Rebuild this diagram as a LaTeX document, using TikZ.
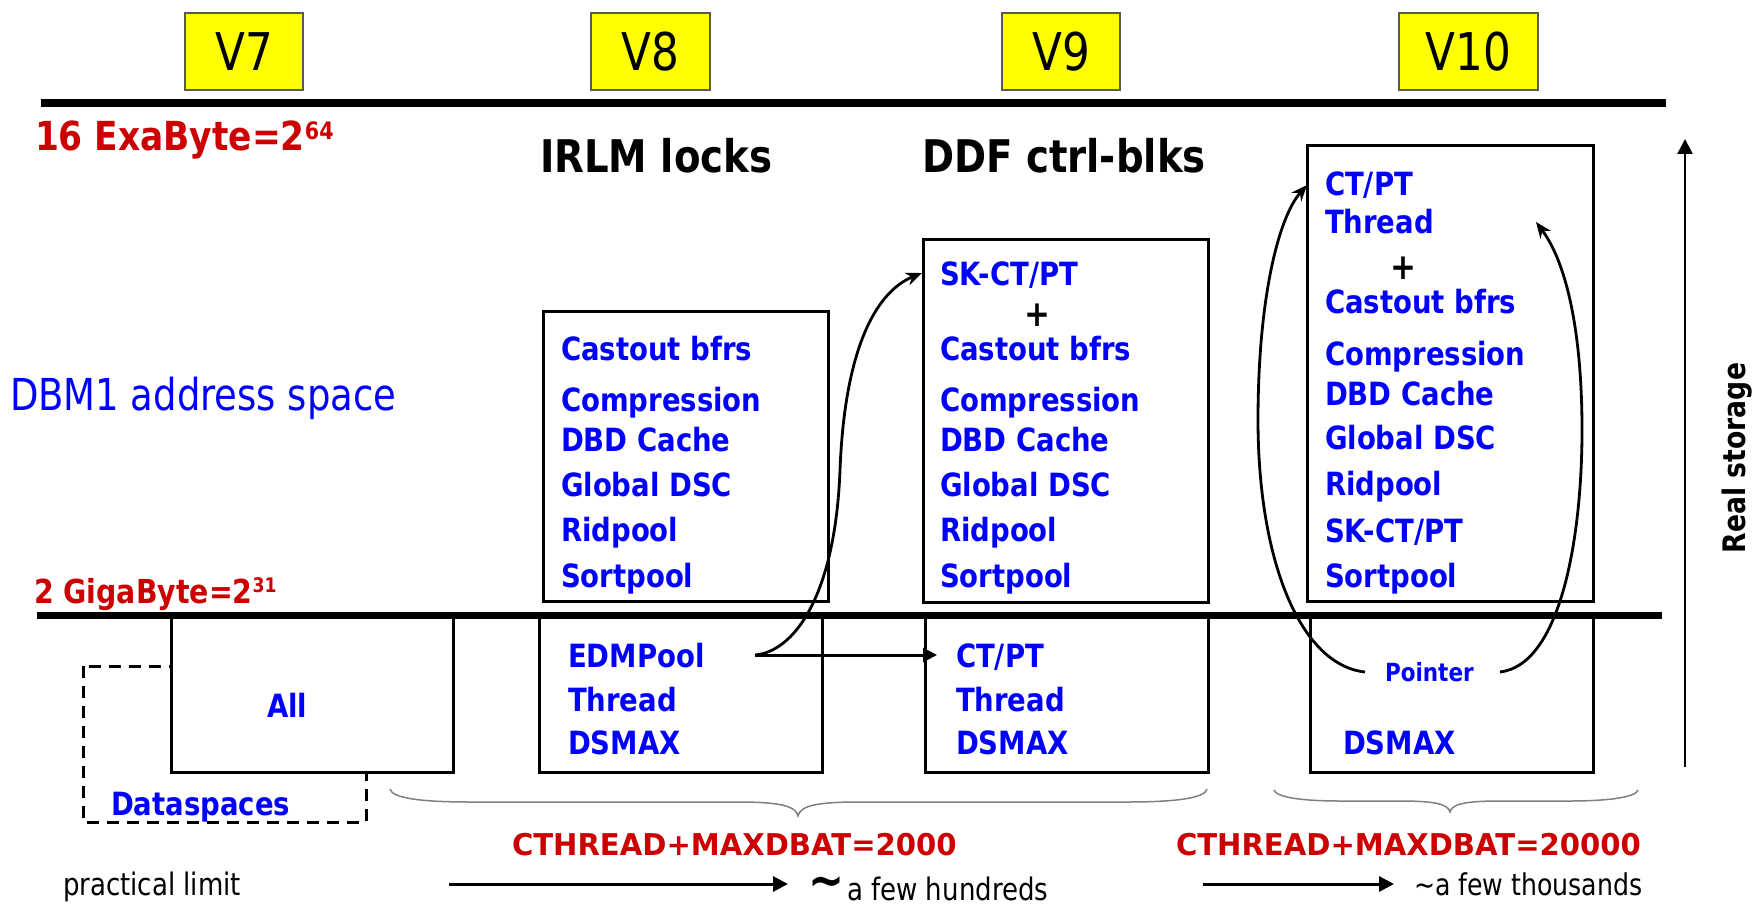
\documentclass[tikz,border=0pt]{standalone}
\usepackage{fontspec}
\setmainfont{DejaVu Sans}[FakeStretch=0.86]
\newfontfamily\tah{DejaVu Sans}[FakeStretch=0.84]
\newfontfamily\verd{DejaVu Sans}[FakeStretch=0.97]
\usetikzlibrary{arrows.meta}
\definecolor{tblue}{RGB}{0,0,255}
\definecolor{tred}{RGB}{204,0,0}
\definecolor{ybox}{RGB}{255,255,0}
\definecolor{bracegray}{RGB}{128,128,128}
\begin{document}
\begin{tikzpicture}[x=1pt,y=-1pt,
  every node/.style={inner sep=0pt,outer sep=0pt},
  vbox/.style={draw=gray!70!black,line width=1.5pt,fill=ybox,
    font=\tah\fontsize{52}{52}\selectfont},
  membox/.style={draw,line width=3pt,fill=white},
  item/.style={anchor=base west,text=tblue,font=\fontsize{32}{36}\selectfont\bfseries},
  plus/.style={anchor=center,font=\fontsize{36}{36}\selectfont\bfseries},
  head/.style={anchor=base west,font=\fontsize{45}{45}\selectfont\bfseries},
  redlab/.style={anchor=base west,text=tred},
  sepline/.style={line width=8pt},
  brace/.style={draw=bracegray,line width=1.5pt},
  conn/.style={line width=2.8pt,-{Stealth[length=16pt,width=13pt]}},
  straight/.style={line width=3pt,-{Triangle[length=15pt,width=15pt]}},
  note/.style={anchor=base west,font=\tah\fontsize{31}{31}\selectfont}
]
\useasboundingbox (0,0) rectangle (1752,904);

% version labels
\node[vbox,minimum width=118pt,minimum height=77pt] (v7) at (244,51.5) {V7};
\node[vbox,minimum width=119pt,minimum height=77pt] (v8) at (650.5,51.5) {V8};
\node[vbox,minimum width=118pt,minimum height=77pt] (v9) at (1061,51.5) {V9};
\node[vbox,minimum width=139pt,minimum height=77pt] (v10) at (1468.5,51.5) {V10};

% dashed dataspaces box (behind the All box)
\draw[line width=3pt,dash pattern=on 12pt off 8pt] (83,666) rectangle (366,822);

% memory boxes
\node[membox,minimum width=285pt,minimum height=290pt] (v8up) at (685.5,456) {};
\node[membox,minimum width=285pt,minimum height=363pt] (v9up) at (1065.5,420.5) {};
\node[membox,minimum width=286pt,minimum height=455pt] (v10up) at (1450,373.5) {};
\node[membox,minimum width=282pt,minimum height=157pt] (v7low) at (312,693.5) {};
\node[membox,minimum width=283pt,minimum height=157pt] (v8low) at (680.5,693.5) {};
\node[membox,minimum width=283pt,minimum height=157pt] (v9low) at (1066.5,693.5) {};
\node[membox,minimum width=283pt,minimum height=157pt] (v10low) at (1451.5,693.5) {};

% separator lines
\coordinate (ta) at (41,103);
\coordinate (tb) at (1666,103);
\coordinate (ba) at (37,615);
\coordinate (bb) at (1662,615);
\draw[sepline] (ta) -- (tb);
\draw[line width=7pt] (ba) -- (bb);

% left labels
\node[redlab,font=\fontsize{40}{40}\selectfont\bfseries] (exa) at (35,151)
  {16 ExaByte=2\raisebox{11.5pt}{\fontsize{24}{24}\selectfont 64}};
\node[redlab,font=\fontsize{33}{33}\selectfont\bfseries] (giga) at (34,603)
  {2 GigaByte=2\raisebox{10.5pt}{\fontsize{20}{20}\selectfont 31}};
\node[anchor=base west,text=tblue,font=\tah\fontsize{44}{44}\selectfont] (dbm1) at (10,410)
  {DBM1 address space};

% headings
\node[head] (irlm) at (540,173) {IRLM locks};
\node[head] (ddf) at (922,173) {DDF ctrl-blks};

% V8 upper
\node[item] (a1) at (561,360) {Castout bfrs};
\node[item] (a2) at (561,411) {Compression};
\node[item] (a3) at (561,451) {DBD Cache};
\node[item] (a4) at (561,496) {Global DSC};
\node[item] (a5) at (561,541) {Ridpool};
\node[item] (a6) at (561,587) {Sortpool};

% V9 upper
\node[item] (b0) at (940,285) {SK-CT/PT};
\node[plus] (bplus) at (1037,315) {+};
\node[item] (b1) at (940,360) {Castout bfrs};
\node[item] (b2) at (940,411) {Compression};
\node[item] (b3) at (940,451) {DBD Cache};
\node[item] (b4) at (940,496) {Global DSC};
\node[item] (b5) at (940,541) {Ridpool};
\node[item] (b6) at (940,587) {Sortpool};

% V10 upper
\node[item] (c0) at (1325,196) {CT/PT};
\node[item] (c0b) at (1325,233) {Thread};
\node[plus] (cplus) at (1403,268) {+};
\node[item] (c1) at (1325,313) {Castout bfrs};
\node[item] (c2) at (1325,365) {Compression};
\node[item] (c3) at (1325,405) {DBD Cache};
\node[item] (c4) at (1325,449) {Global DSC};
\node[item] (c5) at (1325,495) {Ridpool};
\node[item] (c6) at (1325,542) {SK-CT/PT};
\node[item] (c7) at (1325,587) {Sortpool};

% lower boxes contents
\node[item] (all) at (267,717) {All};
\node[item] (dsp) at (111,815) {Dataspaces};
\node[item] (d1) at (568,667) {EDMPool};
\node[item] (d2) at (568,711) {Thread};
\node[item] (d3) at (568,754) {DSMAX};
\node[item] (e1) at (956,667) {CT/PT};
\node[item] (e2) at (956,711) {Thread};
\node[item] (e3) at (956,754) {DSMAX};
\node[item,font=\fontsize{25}{25}\selectfont\bfseries] (ptr) at (1385,681) {Pointer};
\node[item] (f3) at (1343,754) {DSMAX};

% connectors
\coordinate (edmout) at (755,655);
\coordinate (ctin) at (937,655);
\coordinate (skin) at (922,273);
\draw[straight,-{Triangle[length=14pt,width=14pt]}] (edmout) -- (ctin);
\draw[conn] (edmout) .. controls (792,652) and (835,600) .. (840,470)
  .. controls (845,340) and (880,290) .. (skin);
\coordinate (pl) at (1365,672);
\coordinate (pr) at (1500,672);
\coordinate (tl) at (1307,185);
\coordinate (tr) at (1536,222);
\draw[conn] (pl) .. controls (1300,665) and (1258,560) .. (1258,420)
  .. controls (1258,300) and (1278,218) .. (tl);
\draw[conn] (pr) .. controls (1560,665) and (1582,540) .. (1582,430)
  .. controls (1582,330) and (1566,262) .. (tr);

% real storage
\coordinate (rsb) at (1685,767);
\coordinate (rst) at (1685,139);
\draw[line width=2.5pt,-{Triangle[length=15pt,width=15pt]}] (rsb) -- (rst);
\node[rotate=90,anchor=base,font=\fontsize{31}{31}\selectfont\bfseries] (real) at (1745,458) {Real storage};

% braces
\draw[brace] (390,789) .. controls (392,798) and (420,802) .. (470,802) -- (738,802)
  .. controls (780,802) and (796,806) .. (798,816)
  .. controls (800,806) and (816,802) .. (858,802) -- (1127,802)
  .. controls (1177,802) and (1205,798) .. (1207,789);
\draw[brace] (1274,790) .. controls (1276,797) and (1300,801) .. (1340,801) -- (1400,801)
  .. controls (1435,801) and (1448,804) .. (1450,812)
  .. controls (1452,804) and (1465,801) .. (1500,801) -- (1570,801)
  .. controls (1610,801) and (1636,797) .. (1638,790);

% totals
\node[redlab,font=\verd\fontsize{30}{30}\selectfont\bfseries] (tot1) at (512,855) {CTHREAD+MAXDBAT=2000};
\node[redlab,font=\verd\fontsize{30}{30}\selectfont\bfseries] (tot2) at (1176,855) {CTHREAD+MAXDBAT=20000};

% bottom row
\node[note] (plim) at (63,895) {practical limit};
\coordinate (ar1a) at (449,884);
\coordinate (ar1b) at (788,884);
\coordinate (ar2a) at (1203,884);
\coordinate (ar2b) at (1394,884);
\draw[straight] (ar1a) -- (ar1b);
\draw[straight] (ar2a) -- (ar2b);
\node[anchor=base west,font=\fontsize{50}{50}\selectfont\bfseries] (tilde) at (808,897) {\textasciitilde};
\node[note] (hund) at (847,900) {a few hundreds};
\node[note,font=\tah\fontsize{30}{30}\selectfont] (thou) at (1414,895) {\textasciitilde a few thousands};
\end{tikzpicture}
\end{document}
